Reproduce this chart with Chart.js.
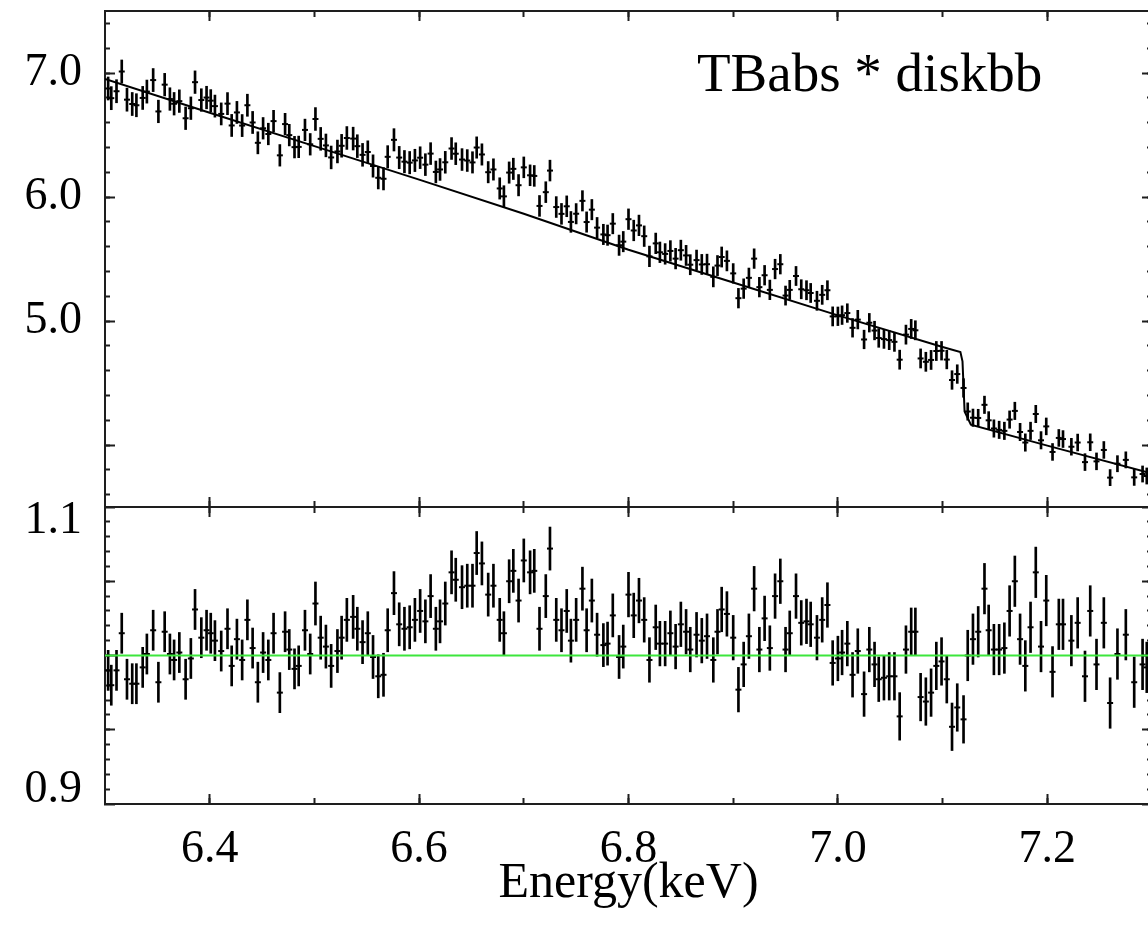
<!DOCTYPE html>
<html>
<head>
<meta charset="utf-8">
<script src="https://cdn.jsdelivr.net/npm/chart.js@4.4.1/dist/chart.umd.min.js"></script>
<style>
    html, body { margin: 0; padding: 0; background: #fff; overflow: hidden; }
    .panel { position: absolute; left: 0; width: 1160px; }
    #spectrumBox { top: 0; height: 520px; }
    #ratioBox { top: 500px; height: 440px; }
</style>
</head>
<body>
<div class="panel" id="spectrumBox"><canvas id="spectrum" width="1160" height="520"></canvas></div>
<div class="panel" id="ratioBox"><canvas id="ratio" width="1160" height="440"></canvas></div>
<script>
// bin centres (keV)
const energy = [
    6.303, 6.306, 6.311, 6.316, 6.321, 6.326, 6.330, 6.336, 6.340, 6.346,
    6.351, 6.357, 6.362, 6.366, 6.371, 6.377, 6.382, 6.386, 6.392, 6.397,
    6.401, 6.405, 6.411, 6.417, 6.421, 6.426, 6.431, 6.436, 6.441, 6.446,
    6.451, 6.456, 6.461, 6.467, 6.472, 6.476, 6.481, 6.485, 6.491, 6.496,
    6.501, 6.506, 6.511, 6.516, 6.522, 6.526, 6.531, 6.537, 6.541, 6.546,
    6.551, 6.556, 6.561, 6.566, 6.570, 6.576, 6.581, 6.586, 6.591, 6.596,
    6.601, 6.606, 6.611, 6.616, 6.620, 6.625, 6.631, 6.635, 6.641, 6.646,
    6.651, 6.655, 6.660, 6.666, 6.671, 6.677, 6.681, 6.686, 6.690, 6.695,
    6.700, 6.706, 6.710, 6.715, 6.721, 6.725, 6.731, 6.736, 6.741, 6.745,
    6.750, 6.756, 6.760, 6.765, 6.770, 6.776, 6.780, 6.785, 6.791, 6.795,
    6.800, 6.805, 6.810, 6.815, 6.820, 6.826, 6.830, 6.835, 6.840, 6.845,
    6.850, 6.855, 6.859, 6.865, 6.870, 6.875, 6.881, 6.885, 6.889, 6.894,
    6.900, 6.905, 6.910, 6.915, 6.920, 6.925, 6.930, 6.935, 6.940, 6.945,
    6.950, 6.954, 6.960, 6.965, 6.970, 6.974, 6.980, 6.985, 6.990, 6.995,
    7.000, 7.004, 7.009, 7.014, 7.019, 7.025, 7.030, 7.035, 7.039, 7.044,
    7.049, 7.054, 7.059, 7.065, 7.070, 7.074, 7.079, 7.084, 7.089, 7.094,
    7.099, 7.104, 7.109, 7.114, 7.120, 7.124, 7.129, 7.134, 7.140, 7.144,
    7.149, 7.154, 7.159, 7.164, 7.169, 7.174, 7.179, 7.184, 7.189, 7.194,
    7.199, 7.205, 7.211, 7.215, 7.223, 7.229, 7.236, 7.241, 7.247, 7.254,
    7.260, 7.267, 7.275, 7.283, 7.291, 7.295
];

// upper panel: data and errors
const counts = [
    6.875, 6.797, 6.853, 7.012, 6.785, 6.750, 6.740, 6.799, 6.850, 6.943,
    6.690, 6.906, 6.790, 6.752, 6.773, 6.635, 6.716, 6.926, 6.782, 6.802,
    6.777, 6.733, 6.670, 6.753, 6.577, 6.682, 6.576, 6.740, 6.601, 6.437,
    6.554, 6.508, 6.612, 6.336, 6.588, 6.499, 6.402, 6.404, 6.541, 6.425,
    6.629, 6.469, 6.416, 6.319, 6.367, 6.413, 6.476, 6.471, 6.410, 6.340,
    6.363, 6.250, 6.155, 6.147, 6.324, 6.461, 6.318, 6.285, 6.277, 6.295,
    6.317, 6.261, 6.350, 6.202, 6.222, 6.280, 6.391, 6.349, 6.302, 6.294,
    6.279, 6.399, 6.343, 6.200, 6.222, 6.069, 6.005, 6.197, 6.227, 6.095,
    6.239, 6.175, 6.170, 5.928, 6.039, 6.213, 5.919, 5.864, 5.925, 5.799,
    5.865, 5.969, 5.798, 5.898, 5.753, 5.698, 5.692, 5.785, 5.611, 5.640,
    5.821, 5.730, 5.771, 5.684, 5.521, 5.626, 5.554, 5.541, 5.565, 5.503,
    5.571, 5.529, 5.454, 5.491, 5.456, 5.458, 5.356, 5.447, 5.516, 5.485,
    5.384, 5.184, 5.261, 5.348, 5.503, 5.273, 5.369, 5.251, 5.419, 5.458,
    5.205, 5.251, 5.363, 5.256, 5.248, 5.226, 5.163, 5.211, 5.248, 5.037,
    5.038, 5.047, 5.064, 4.945, 5.011, 4.851, 4.986, 4.923, 4.863, 4.854,
    4.846, 4.832, 4.688, 4.890, 4.936, 4.925, 4.698, 4.671, 4.686, 4.758,
    4.760, 4.689, 4.524, 4.572, 4.460, 4.270, 4.220, 4.218, 4.324, 4.199,
    4.133, 4.122, 4.114, 4.205, 4.275, 4.105, 4.020, 4.114, 4.250, 4.038,
    4.150, 3.944, 4.057, 4.048, 3.986, 4.020, 3.862, 4.022, 3.868, 3.960,
    3.737, 3.849, 3.880, 3.739, 3.766, 3.750
];

const countsErr = [
    0.093, 0.093, 0.093, 0.093, 0.093, 0.093, 0.093, 0.093, 0.093, 0.093,
    0.091, 0.091, 0.091, 0.091, 0.091, 0.091, 0.091, 0.091, 0.091, 0.091,
    0.089, 0.089, 0.089, 0.089, 0.089, 0.089, 0.089, 0.089, 0.089, 0.089,
    0.087, 0.087, 0.087, 0.087, 0.087, 0.087, 0.087, 0.087, 0.087, 0.087,
    0.092, 0.092, 0.092, 0.092, 0.092, 0.092, 0.092, 0.092, 0.092, 0.092,
    0.090, 0.090, 0.090, 0.090, 0.090, 0.090, 0.090, 0.090, 0.090, 0.090,
    0.088, 0.088, 0.088, 0.088, 0.088, 0.088, 0.088, 0.088, 0.088, 0.088,
    0.086, 0.086, 0.086, 0.086, 0.086, 0.086, 0.086, 0.086, 0.086, 0.086,
    0.084, 0.084, 0.084, 0.084, 0.084, 0.084, 0.084, 0.084, 0.084, 0.084,
    0.082, 0.082, 0.082, 0.082, 0.082, 0.082, 0.082, 0.082, 0.082, 0.082,
    0.083, 0.083, 0.083, 0.083, 0.083, 0.083, 0.083, 0.083, 0.083, 0.083,
    0.081, 0.081, 0.081, 0.081, 0.081, 0.081, 0.081, 0.081, 0.081, 0.081,
    0.079, 0.079, 0.079, 0.079, 0.079, 0.079, 0.079, 0.079, 0.079, 0.079,
    0.077, 0.077, 0.077, 0.077, 0.077, 0.077, 0.077, 0.077, 0.077, 0.077,
    0.075, 0.075, 0.075, 0.075, 0.075, 0.075, 0.075, 0.075, 0.075, 0.075,
    0.077, 0.077, 0.077, 0.077, 0.077, 0.077, 0.077, 0.077, 0.077, 0.077,
    0.075, 0.075, 0.075, 0.075, 0.075, 0.070, 0.070, 0.070, 0.070, 0.070,
    0.070, 0.070, 0.070, 0.070, 0.070, 0.070, 0.070, 0.070, 0.070, 0.070,
    0.068, 0.068, 0.068, 0.068, 0.068, 0.068, 0.068, 0.068, 0.068, 0.068,
    0.065, 0.065, 0.065, 0.065, 0.065, 0.065
];

// TBabs * diskbb model, read at a few energies (iron edge near 7.12 keV)
const modelEnergy = [6.30, 6.40, 6.50, 6.60, 6.70, 6.80, 6.90, 7.00, 7.10, 7.117, 7.119, 7.121, 7.127, 7.20, 7.30];
const modelCounts = [6.952, 6.680, 6.410, 6.140, 5.865, 5.575, 5.310, 5.045, 4.790, 4.750, 4.675, 4.270, 4.164, 3.995, 3.770];

// lower panel: data / model
const ratio = [
    0.990, 0.980, 0.990, 1.015, 0.984, 0.981, 0.981, 0.992, 1.001, 1.017,
    0.982, 1.016, 1.001, 0.997, 1.002, 0.984, 0.998, 1.031, 1.012, 1.017,
    1.015, 1.010, 1.003, 1.018, 0.993, 1.011, 0.997, 1.024, 1.005, 0.982,
    1.002, 0.997, 1.015, 0.975, 1.016, 1.004, 0.991, 0.993, 1.017, 1.001,
    1.035, 1.012, 1.006, 0.993, 1.003, 1.012, 1.024, 1.026, 1.018, 1.009,
    1.015, 0.999, 0.986, 0.987, 1.017, 1.042, 1.021, 1.018, 1.019, 1.024,
    1.030, 1.023, 1.040, 1.018, 1.023, 1.035, 1.056, 1.051, 1.046, 1.047,
    1.047, 1.069, 1.062, 1.041, 1.047, 1.024, 1.015, 1.050, 1.057, 1.037,
    1.064, 1.056, 1.057, 1.018, 1.040, 1.072, 1.024, 1.017, 1.030, 1.010,
    1.024, 1.045, 1.017, 1.037, 1.014, 1.007, 1.008, 1.027, 0.999, 1.006,
    1.041, 1.027, 1.037, 1.024, 0.997, 1.019, 1.008, 1.008, 1.015, 1.006,
    1.021, 1.016, 1.004, 1.014, 1.010, 1.013, 0.997, 1.016, 1.031, 1.028,
    1.012, 0.977, 0.994, 1.013, 1.045, 1.004, 1.025, 1.005, 1.040, 1.050,
    1.004, 1.015, 1.040, 1.022, 1.023, 1.021, 1.012, 1.024, 1.034, 0.995,
    0.998, 1.002, 1.008, 0.987, 1.003, 0.974, 1.004, 0.994, 0.984, 0.985,
    0.986, 0.986, 0.959, 1.004, 1.016, 1.016, 0.972, 0.969, 0.975, 0.993,
    0.996, 0.984, 0.952, 0.965, 0.957, 1.000, 1.011, 1.016, 1.045, 1.017,
    1.004, 1.004, 1.005, 1.030, 1.050, 1.011, 0.993, 1.019, 1.056, 1.006,
    1.037, 0.989, 1.021, 1.021, 1.010, 1.022, 0.986, 1.030, 0.994, 1.022,
    0.968, 1.001, 1.014, 0.982, 0.994, 0.992
];

const ratioErr = [
    0.0135, 0.0135, 0.0135, 0.0135, 0.0135, 0.0135, 0.0135, 0.0135, 0.0135, 0.0135,
    0.0135, 0.0135, 0.0135, 0.0135, 0.0135, 0.0135, 0.0135, 0.0135, 0.0135, 0.0135,
    0.0135, 0.0135, 0.0135, 0.0135, 0.0135, 0.0135, 0.0135, 0.0135, 0.0135, 0.0135,
    0.0135, 0.0135, 0.0135, 0.0135, 0.0135, 0.0135, 0.0135, 0.0135, 0.0135, 0.0135,
    0.0145, 0.0145, 0.0145, 0.0145, 0.0145, 0.0145, 0.0145, 0.0145, 0.0145, 0.0145,
    0.0145, 0.0145, 0.0145, 0.0145, 0.0145, 0.0145, 0.0145, 0.0145, 0.0145, 0.0145,
    0.0145, 0.0145, 0.0145, 0.0145, 0.0145, 0.0145, 0.0145, 0.0145, 0.0145, 0.0145,
    0.0145, 0.0145, 0.0145, 0.0145, 0.0145, 0.0145, 0.0145, 0.0145, 0.0145, 0.0145,
    0.0145, 0.0145, 0.0145, 0.0145, 0.0145, 0.0145, 0.0145, 0.0145, 0.0145, 0.0145,
    0.0145, 0.0145, 0.0145, 0.0145, 0.0145, 0.0145, 0.0145, 0.0145, 0.0145, 0.0145,
    0.015, 0.015, 0.015, 0.015, 0.015, 0.015, 0.015, 0.015, 0.015, 0.015,
    0.015, 0.015, 0.015, 0.015, 0.015, 0.015, 0.015, 0.015, 0.015, 0.015,
    0.015, 0.015, 0.015, 0.015, 0.015, 0.015, 0.015, 0.015, 0.015, 0.015,
    0.015, 0.015, 0.015, 0.015, 0.015, 0.015, 0.015, 0.015, 0.015, 0.015,
    0.015, 0.015, 0.015, 0.015, 0.015, 0.015, 0.015, 0.015, 0.015, 0.015,
    0.016, 0.016, 0.016, 0.016, 0.016, 0.016, 0.016, 0.016, 0.016, 0.016,
    0.016, 0.016, 0.016, 0.016, 0.016, 0.017, 0.017, 0.017, 0.017, 0.017,
    0.017, 0.017, 0.017, 0.017, 0.017, 0.017, 0.017, 0.017, 0.017, 0.017,
    0.017, 0.017, 0.017, 0.017, 0.017, 0.017, 0.017, 0.017, 0.017, 0.017,
    0.017, 0.017, 0.017, 0.017, 0.017, 0.017
];

const unityEnergy = [6.3, 7.3];
const unityRatio = [1.0, 1.0];

// axis ticks
const energyMajorTicks = [6.4, 6.6, 6.8, 7.0, 7.2];
const energyMinorTicks = [6.4, 6.5, 6.6, 6.7, 6.8, 6.9, 7.0, 7.1, 7.2];
const countsMajorTicks = [4, 5, 6, 7];
const countsMinorTicks = [3.6, 3.8, 4.0, 4.2, 4.4, 4.6, 4.8, 5.0, 5.2, 5.4, 5.6, 5.8, 6.0, 6.2, 6.4, 6.6, 6.8, 7.0, 7.2, 7.4];
const countsTickLabels = ["5.0", "6.0", "7.0"];
const ratioMajorTicks = [0.9, 0.95, 1.0, 1.05, 1.1];
const ratioMinorTicks = [0.91, 0.92, 0.93, 0.94, 0.95, 0.96, 0.97, 0.98, 0.99, 1.0, 1.01, 1.02, 1.03, 1.04, 1.05, 1.06, 1.07, 1.08, 1.09];
const ratioTickLabels = ["0.9", "1.0", "1.1"];

const FRAME = "#1e1e1e";
const SERIF = "'Liberation Serif', 'Times New Roman', serif";
Chart.defaults.font.family = SERIF;
Chart.defaults.color = "#000";

function pairs(xs, ys) {
    return xs.map((x, i) => ({ x: x, y: ys[i] }));
}

function errorBars(xs, ys, errs) {
    return xs.map((x, i) => ({ x: x, y: [ys[i] - errs[i], ys[i] + errs[i]] }));
}

// a frame side with inward tick marks; size is the room the axis takes
function frameAxis(position, min, max, tickValues, tickLength, extra) {
    const opts = extra || {};
    return {
        type: "linear",
        position: position,
        min: min,
        max: max,
        bounds: "data",
        offset: false,
        weight: opts.weight || 0,
        afterBuildTicks: scale => {
            scale.ticks = tickValues.map(v => ({ value: v }));
        },
        afterFit: scale => {
            if (scale.isHorizontal()) {
                scale.height = opts.size || 0;
            } else {
                scale.width = opts.size || 0;
            }
            scale.paddingLeft = 0;
            scale.paddingRight = 0;
            scale.paddingTop = 0;
            scale.paddingBottom = 0;
        },
        border: { display: opts.border !== false, color: FRAME, width: 2 },
        grid: {
            offset: false,
            drawOnChartArea: false,
            drawTicks: true,
            tickLength: -tickLength,
            tickColor: FRAME,
            tickWidth: 2
        },
        ticks: opts.ticks || { display: false },
        title: opts.title || { display: false }
    };
}

const modelLabel = {
    id: "modelLabel",
    afterDraw(chart) {
        const ctx = chart.ctx;
        ctx.save();
        ctx.font = "55px " + SERIF;
        ctx.fillStyle = "#000";
        ctx.textBaseline = "alphabetic";
        ctx.fillText("TBabs * diskbb", 697, 91);
        ctx.restore();
    }
};

const commonOptions = {
    responsive: false,
    animation: false,
    events: [],
    plugins: {
        legend: { display: false },
        tooltip: { enabled: false }
    }
};

new Chart(document.getElementById("spectrum"), {
    type: "scatter",
    data: {
        datasets: [{
            type: "line",
            data: pairs(modelEnergy, modelCounts),
            borderColor: "#000",
            borderWidth: 2,
            pointRadius: 0,
            fill: false
        }, {
            type: "scatter",
            data: pairs(energy, counts),
            pointStyle: "line",
            pointRadius: 3,
            pointBorderWidth: 2,
            pointBorderColor: "#000"
        }, {
            type: "bar",
            data: errorBars(energy, counts, countsErr),
            backgroundColor: "#000",
            borderWidth: 0,
            barThickness: 2
        }]
    },
    options: {
        ...commonOptions,
        layout: { padding: { top: 11, bottom: 13, left: 0, right: 8 } },
        scales: {
            x: frameAxis("bottom", 6.3, 7.3, energyMajorTicks, 10, { weight: 1 }),
            xMinor: frameAxis("bottom", 6.3, 7.3, energyMinorTicks, 6, { border: false }),
            xTop: frameAxis("top", 6.3, 7.3, energyMajorTicks, 10, { weight: 1 }),
            xTopMinor: frameAxis("top", 6.3, 7.3, energyMinorTicks, 6, { border: false }),
            y: frameAxis("left", 3.5, 7.5, countsMajorTicks, 10, {
                weight: 1,
                size: 105,
                ticks: {
                    display: true,
                    autoSkip: false,
                    padding: 33,
                    color: "#000",
                    font: { family: SERIF, size: 46 },
                    callback: value => {
                        const label = value.toFixed(1);
                        return countsTickLabels.includes(label) ? label : "";
                    }
                }
            }),
            yMinor: frameAxis("left", 3.5, 7.5, countsMinorTicks, 5, { border: false }),
            yRight: frameAxis("right", 3.5, 7.5, countsMajorTicks, 10, { weight: 1 }),
            yRightMinor: frameAxis("right", 3.5, 7.5, countsMinorTicks, 5, { border: false })
        }
    },
    plugins: [modelLabel]
});

new Chart(document.getElementById("ratio"), {
    type: "scatter",
    data: {
        datasets: [{
            type: "line",
            data: pairs(unityEnergy, unityRatio),
            borderColor: "rgb(60, 230, 60)",
            borderWidth: 2,
            pointRadius: 0,
            fill: false
        }, {
            type: "scatter",
            data: pairs(energy, ratio),
            pointStyle: "line",
            pointRadius: 3,
            pointBorderWidth: 2,
            pointBorderColor: "#000"
        }, {
            type: "bar",
            data: errorBars(energy, ratio, ratioErr),
            backgroundColor: "#000",
            borderWidth: 0,
            barThickness: 2
        }]
    },
    options: {
        ...commonOptions,
        layout: { padding: { top: 7, bottom: 0, left: 0, right: 8 } },
        scales: {
            x: frameAxis("bottom", 6.3, 7.3, energyMajorTicks, 10, {
                weight: 1,
                size: 136,
                ticks: {
                    display: true,
                    autoSkip: false,
                    maxRotation: 0,
                    padding: 28,
                    color: "#000",
                    font: { family: SERIF, size: 46 },
                    callback: value => value.toFixed(1)
                },
                title: {
                    display: true,
                    text: "Energy(keV)",
                    color: "#000",
                    font: { family: SERIF, size: 50 },
                    padding: { top: 0, bottom: 26 }
                }
            }),
            xMinor: frameAxis("bottom", 6.3, 7.3, energyMinorTicks, 6, { border: false }),
            xTop: frameAxis("top", 6.3, 7.3, energyMajorTicks, 10, { weight: 1 }),
            xTopMinor: frameAxis("top", 6.3, 7.3, energyMinorTicks, 6, { border: false }),
            y: frameAxis("left", 0.9, 1.1, ratioMajorTicks, 10, {
                weight: 1,
                size: 105,
                ticks: {
                    display: true,
                    autoSkip: false,
                    padding: 33,
                    color: "#000",
                    font: { family: SERIF, size: 46, lineHeight: 0.6 },
                    // edge labels sit inside the frame, as in the original plot
                    callback: value => {
                        const label = value.toFixed(value === 1 ? 1 : 2).replace(/0$/, "");
                        if (!ratioTickLabels.includes(label)) return "";
                        if (label === "1.1") return ["", label];
                        if (label === "0.9") return [label, ""];
                        return label;
                    }
                }
            }),
            yMinor: frameAxis("left", 0.9, 1.1, ratioMinorTicks, 5, { border: false }),
            yRight: frameAxis("right", 0.9, 1.1, ratioMajorTicks, 10, { weight: 1 }),
            yRightMinor: frameAxis("right", 0.9, 1.1, ratioMinorTicks, 5, { border: false })
        }
    }
});
</script>
</body>
</html>
